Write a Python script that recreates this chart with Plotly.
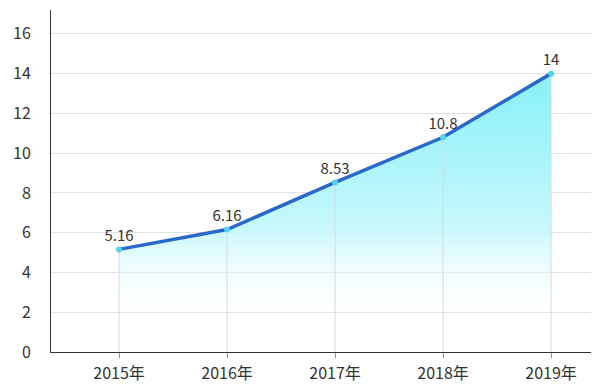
import plotly.graph_objects as go

years = ["2015年", "2016年", "2017年", "2018年", "2019年"]
values = [5.16, 6.16, 8.53, 10.8, 14]
labels = ["5.16", "6.16", "8.53", "10.8", "14"]
y_ticks = [0, 2, 4, 6, 8, 10, 12, 14, 16]

xs = list(range(len(years)))
font_family = "Noto Sans CJK SC, Noto Sans, sans-serif"

fig = go.Figure()

# gradient area
fig.add_trace(go.Scatter(
    x=xs, y=values, mode="none", fill="tozeroy",
    fillgradient=dict(type="vertical", start=1.6, stop=13.0,
                      colorscale=[[0, "rgba(255,255,255,0)"], [0.4, "rgb(200,248,252)"], [1, "rgb(142,241,248)"]]),
    hoverinfo="skip", showlegend=False,
))

# drop lines from points to the axis
fig.add_trace(go.Scatter(
    x=xs, y=values, mode="markers", marker=dict(size=0.1, opacity=0),
    error_y=dict(type="data", symmetric=False, array=[0] * len(values),
                 arrayminus=values, color="#d4dcdc", thickness=1, width=0),
    hoverinfo="skip", showlegend=False,
))

# main line
fig.add_trace(go.Scatter(
    x=xs, y=values, mode="lines+markers+text",
    line=dict(color="#2a68cc", width=3.5),
    marker=dict(size=6, color="#4cd8ea", line=dict(width=0)),
    text=labels, textposition="top center",
    textfont=dict(family=font_family, size=15, color="#333333"),
    showlegend=False,
))

fig.update_layout(
    width=600, height=390,
    margin=dict(l=51, r=9, t=10, b=38),
    paper_bgcolor="white", plot_bgcolor="white",
    font=dict(family=font_family, color="#333333", size=16),
)
fig.update_xaxes(
    range=[-0.63, 4.37], tickvals=xs, ticktext=years,
    showgrid=False, zeroline=False, automargin=False,
    showline=True, linecolor="#333333", linewidth=1,
    ticks="outside", ticklen=5, tickcolor="#999999",
    ticklabelstandoff=2,
    tickfont=dict(family=font_family, size=16, color="#333333"),
)
fig.update_yaxes(
    range=[0, 17.2], tickvals=y_ticks,
    showgrid=True, gridcolor="#e2e2e2", gridwidth=1,
    zeroline=False, automargin=False,
    showline=True, linecolor="#333333", linewidth=1,
    ticks="", ticklabelstandoff=16,
    tickfont=dict(family=font_family, size=16, color="#333333"),
)

fig.write_html("out.html", config={"displayModeBar": False},
               post_script="document.body.style.margin='0';document.body.style.padding='0';")
